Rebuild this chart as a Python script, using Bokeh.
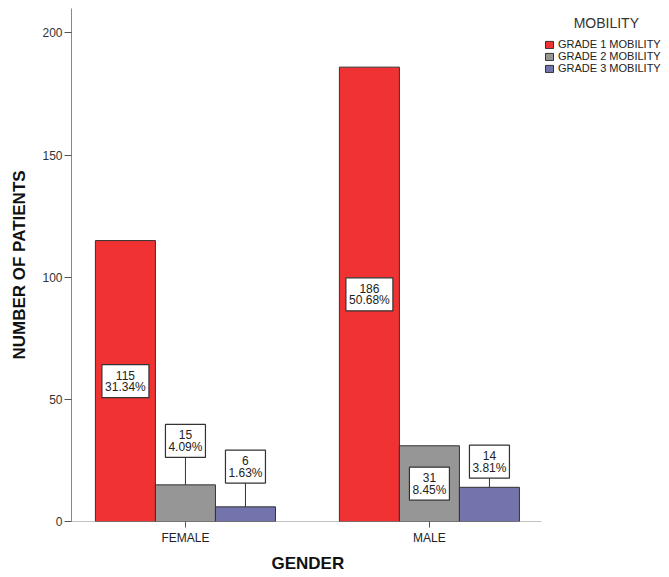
from bokeh.plotting import figure
from bokeh.models import (ColumnDataSource, FixedTicker, Legend, LegendItem, Label,
                          Range1d, Title)
from bokeh.core.properties import value
from bokeh.embed import file_html
from bokeh.resources import INLINE

# ---- data ----
genders = ["FEMALE", "MALE"]
series_names = ["GRADE 1 MOBILITY", "GRADE 2 MOBILITY", "GRADE 3 MOBILITY"]
grade1 = [115, 186]
grade2 = [15, 31]
grade3 = [6, 14]
pct1 = ["31.34%", "50.68%"]
pct2 = ["4.09%", "8.45%"]
pct3 = ["1.63%", "3.81%"]
y_ticks = [0, 50, 100, 150, 200]
legend_title = "MOBILITY"

# ---- layout of value labels (data-unit y of each box centre) ----
label_y1 = [57.5, 93.0]
label_y2 = [33.0, 15.5]
label_y3 = [22.5, 24.5]

colors = ["#F03232", "#969696", "#7474AC"]
offsets = [-0.246, 0.0, 0.246]
bar_w = 0.246
FONT = "Liberation Sans"
X_START, AXIS_END, X_END = -0.467, 1.459, 1.984

p = figure(width=669, height=577, output_backend="svg", toolbar_location=None,
           x_range=Range1d(X_START, X_END), y_range=Range1d(0, 210),
           min_border_left=71, min_border_top=8, min_border_bottom=56,
           min_border_right=0)
p.outline_line_color = None
p.xgrid.visible = False
p.ygrid.visible = False
p.background_fill_color = "white"

series = [(grade1, pct1, label_y1), (grade2, pct2, label_y2), (grade3, pct3, label_y3)]
sources = []
for i, (vals, pcts, ly) in enumerate(series):
    xs = [g + offsets[i] for g in range(len(genders))]
    sources.append(ColumnDataSource(dict(
        x=xs, top=vals, ly=ly, lead=[max(v, l) for v, l in zip(vals, ly)],
        cnt=[str(v) for v in vals], pct=pcts,
        bw=[7 * max(len(str(v)), len(pc)) + 5 for v, pc in zip(vals, pcts)],
    )))

# x-axis baseline (stops at the end of the category area)
p.segment(x0=[X_START], x1=[AXIS_END], y0=[0], y1=[0], line_color="#888888",
          line_width=1)

renderers = []
for i, src in enumerate(sources):
    r = p.vbar(x="x", top="top", bottom=0, width=bar_w, source=src,
               fill_color=colors[i], line_color="#333333", line_width=1)
    renderers.append(r)

for i, src in enumerate(sources):
    p.segment(x0="x", y0="top", x1="x", y1="lead", source=src,
              line_color="#333333", line_width=1)
    p.rect(x="x", y="ly", width="bw", height=33, width_units="screen",
           height_units="screen", source=src, fill_color="white",
           line_color="#333333", line_width=1.2)
    p.text(x="x", y="ly", text="cnt", source=src, text_align="center",
           text_baseline="middle", y_offset=-6, text_font_size="12px",
           text_font=value(FONT), text_color="#222222")
    p.text(x="x", y="ly", text="pct", source=src, text_align="center",
           text_baseline="middle", y_offset=6, text_font_size="12px",
           text_font=value(FONT), text_color="#222222")

# ---- axes ----
p.yaxis.ticker = FixedTicker(ticks=y_ticks)
p.yaxis.minor_tick_line_color = None
p.yaxis.major_tick_out = 7
p.yaxis.major_tick_in = 0
p.yaxis.major_label_standoff = 2
p.yaxis.axis_line_color = "#888888"
p.yaxis.major_tick_line_color = "#555555"
p.yaxis.major_label_text_font = FONT
p.yaxis.major_label_text_font_size = "12px"
p.yaxis.major_label_text_color = "#333333"
p.yaxis.axis_label = "NUMBER OF PATIENTS"
p.yaxis.axis_label_text_font = FONT
p.yaxis.axis_label_text_font_size = "17px"
p.yaxis.axis_label_text_font_style = "bold"
p.yaxis.axis_label_text_color = "#111111"
p.yaxis.axis_label_standoff = 10

p.xaxis.ticker = FixedTicker(ticks=list(range(len(genders))))
p.xaxis.major_label_overrides = {i: g for i, g in enumerate(genders)}
p.xaxis.minor_tick_line_color = None
p.xaxis.major_tick_out = 6
p.xaxis.major_tick_in = 0
p.xaxis.major_label_standoff = 3
p.xaxis.axis_line_color = None
p.xaxis.major_tick_line_color = "#555555"
p.xaxis.major_label_text_font = FONT
p.xaxis.major_label_text_font_size = "12px"
p.xaxis.major_label_text_color = "#222222"

p.add_layout(Title(text="GENDER", align="left", offset=200, standoff=8,
                   text_font=FONT, text_font_size="17px", text_font_style="bold",
                   text_color="#111111"), "below")

# ---- legend (inside the wide frame, right of the bars) ----
legend = Legend(
    items=[LegendItem(label=n, renderers=[r]) for n, r in zip(series_names, renderers)],
    location=(473, 447), padding=0, margin=0, border_line_color=None,
    background_fill_alpha=0, glyph_width=10, glyph_height=9, label_height=12,
    spacing=0, label_standoff=4, label_text_font=FONT,
    label_text_font_size="11px", label_text_color="#222222",
)
p.add_layout(legend)

p.add_layout(Label(x=1.725, y=204.0, text=legend_title, text_align="center",
                   text_baseline="middle", text_font=FONT,
                   text_font_size="14px", text_color="#333333"))

open("out.html", "w").write(file_html(p, INLINE))
